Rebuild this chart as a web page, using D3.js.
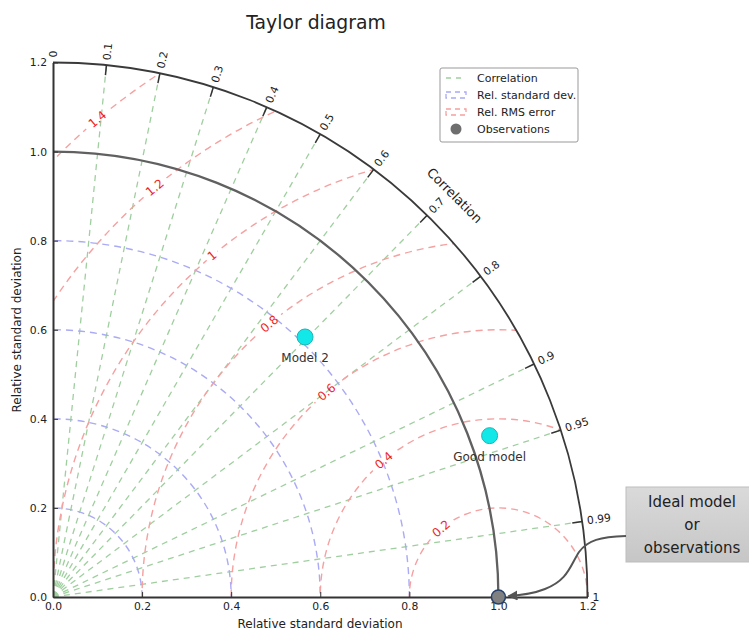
<!DOCTYPE html>
<html><head><meta charset="utf-8">
<script src="https://cdn.jsdelivr.net/npm/d3@7"></script>
<style>
body{margin:0;background:#fff}
svg{display:block}
text{font-family:"DejaVu Sans",sans-serif}
</style>
</head><body>
<svg id="chart" width="749" height="632"></svg>
<script>
// ---------- data ----------
const corrTicks = [0, 0.1, 0.2, 0.3, 0.4, 0.5, 0.6, 0.7, 0.8, 0.9, 0.95, 0.99, 1];
const corrGrid = [0.1, 0.2, 0.3, 0.4, 0.5, 0.6, 0.7, 0.8, 0.9, 0.95, 0.99];
const stdTicks = [0, 0.2, 0.4, 0.6, 0.8, 1.0, 1.2];
const stdGrid = [0.2, 0.4, 0.6, 0.8];
const rmsLevels = [0.2, 0.4, 0.6, 0.8, 1.0, 1.2, 1.4];
const refStd = 1.0;
const maxStd = 1.2;
const modelNames = ["Model 2", "Good model"];
const modelStd = [0.813, 1.045];
const modelCorr = [0.696, 0.938];
const legendLabels = ["Correlation", "Rel. standard dev.", "Rel. RMS error", "Observations"];
const calloutLines = ["Ideal model", "or", "observations"];

// ---------- layout ----------
const svg = d3.select("#chart");
const ox = 53, oy = 597;
const x = d3.scaleLinear().domain([0, maxStd]).range([ox, ox + 534.5]);
const y = d3.scaleLinear().domain([0, maxStd]).range([oy, oy - 534.5]);
const r = d3.scaleLinear().domain([0, maxStd]).range([0, 534.5]);
const pol = (s, c) => { const t = Math.acos(c); return [x(s * Math.cos(t)), y(s * Math.sin(t))]; };

const green = "#9fcf9f", blue = "#aaaaf5", red = "#f6a0a0";

const defs = svg.append("defs");
defs.append("clipPath").attr("id", "quad").append("path")
  .attr("d", () => { const p = d3.path(); p.moveTo(ox, oy); p.lineTo(ox, oy - r(maxStd)); p.arc(ox, oy, r(maxStd), -Math.PI/2, 0); p.closePath(); return p.toString(); });

// title
svg.append("text").attr("x", 316).attr("y", 29).attr("text-anchor", "middle")
  .attr("font-size", 18.8).attr("fill", "#222").text("Taylor diagram");

// ---------- grids ----------
const grid = svg.append("g").attr("clip-path", "url(#quad)");
grid.selectAll("line.corr").data(corrGrid).join("line").attr("class", "corr")
  .attr("x1", ox).attr("y1", oy)
  .attr("x2", d => pol(maxStd, d)[0]).attr("y2", d => pol(maxStd, d)[1])
  .attr("stroke", green).attr("stroke-width", 1.3).attr("stroke-dasharray", "6,5");
grid.selectAll("circle.std").data(stdGrid).join("circle").attr("class", "std")
  .attr("cx", ox).attr("cy", oy).attr("r", d => r(d))
  .attr("fill", "none").attr("stroke", blue).attr("stroke-width", 1.4).attr("stroke-dasharray", "7,5");

// RMS contours with label gaps
const phi = 130 * Math.PI / 180;
const rmsPos = rmsLevels.map(R => [x(refStd + R * Math.cos(phi)), y(R * Math.sin(phi))]);
const fmt = d3.format("~g");
const mask = defs.append("mask").attr("id", "rmsmask");
mask.append("rect").attr("x", 0).attr("y", 0).attr("width", 749).attr("height", 632).attr("fill", "white");
mask.selectAll("rect.g").data(rmsLevels).join("rect").attr("class", "g")
  .attr("x", d => -(fmt(d).length * 4 + 3)).attr("y", -6)
  .attr("width", d => 2 * (fmt(d).length * 4 + 3)).attr("height", 12).attr("fill", "black")
  .attr("transform", (d, i) => `translate(${rmsPos[i][0]},${rmsPos[i][1]}) rotate(-40)`);
grid.append("g").attr("mask", "url(#rmsmask)")
  .selectAll("circle").data(rmsLevels).join("circle")
  .attr("cx", x(refStd)).attr("cy", y(0)).attr("r", d => r(d))
  .attr("fill", "none").attr("stroke", red).attr("stroke-width", 1.4).attr("stroke-dasharray", "7,5");
svg.selectAll("text.rms").data(rmsLevels).join("text").attr("class", "rms")
  .attr("transform", (d, i) => `translate(${rmsPos[i][0]},${rmsPos[i][1]}) rotate(-40)`)
  .attr("text-anchor", "middle").attr("dominant-baseline", "central")
  .attr("font-size", 12).attr("fill", "#f01e24").text(d => fmt(d));

// ---------- arcs ----------
const arcPath = R => { const p = d3.path(); p.moveTo(ox, oy - r(R)); p.arc(ox, oy, r(R), -Math.PI/2, 0); return p.toString(); };
svg.append("path").attr("d", arcPath(refStd)).attr("fill", "none").attr("stroke", "#606060").attr("stroke-width", 2.3);
svg.append("path").attr("d", arcPath(maxStd)).attr("fill", "none").attr("stroke", "#3a3a3a").attr("stroke-width", 1.8);

// correlation ticks and labels
const ct = svg.append("g");
corrTicks.forEach(c => {
  const t = Math.acos(c), R = r(maxStd);
  const cx = Math.cos(t), sy = Math.sin(t);
  if (c > 0 && c < 1) {
    ct.append("line").attr("x1", ox + R * cx).attr("y1", oy - R * sy)
      .attr("x2", ox + (R - 10) * cx).attr("y2", oy - (R - 10) * sy)
      .attr("stroke", "#333").attr("stroke-width", 1.5);
  }
  ct.append("text").attr("transform", `translate(${ox + (R + 5) * cx},${oy - (R + 5) * sy}) rotate(${-t * 180 / Math.PI})`)
    .attr("dominant-baseline", "central").attr("font-size", 10.8).attr("fill", "#222").text(fmt(c));
});
{
  const t = Math.PI / 4, R = r(1.275);
  svg.append("text").attr("transform", `translate(${ox + R * Math.cos(t)},${oy - R * Math.sin(t)}) rotate(45)`)
    .attr("text-anchor", "middle").attr("dominant-baseline", "central")
    .attr("font-size", 13).attr("fill", "#222").text("Correlation");
}

// ---------- axes ----------
const f1 = d3.format(".1f");
const ax = svg.append("g").attr("transform", `translate(0,${oy})`)
  .call(d3.axisBottom(x).tickValues(stdTicks).tickFormat(f1).tickSizeInner(-5).tickSizeOuter(0).tickPadding(5));
const ay = svg.append("g").attr("transform", `translate(${ox},0)`)
  .call(d3.axisLeft(y).tickValues(stdTicks).tickFormat(f1).tickSizeInner(-5).tickSizeOuter(0).tickPadding(6));
[ax, ay].forEach(g => {
  g.select(".domain").attr("stroke", "#333").attr("stroke-width", 2);
  g.selectAll(".tick line").attr("stroke", "#333");
  g.selectAll(".tick text").attr("font-size", 10.8).attr("fill", "#222").attr("font-family", "DejaVu Sans");
});
svg.append("text").attr("x", 320).attr("y", 628).attr("text-anchor", "middle")
  .attr("font-size", 12).attr("fill", "#222").text("Relative standard deviation");
svg.append("text").attr("transform", "translate(21,330) rotate(-90)").attr("text-anchor", "middle")
  .attr("font-size", 12).attr("fill", "#222").text("Relative standard deviation");

// ---------- points ----------
svg.append("circle").attr("cx", x(refStd)).attr("cy", y(0)).attr("r", 7)
  .attr("fill", "#808080").attr("stroke", "#23406e").attr("stroke-width", 1.5);
modelNames.forEach((n, i) => {
  const [px, py] = pol(modelStd[i], modelCorr[i]);
  svg.append("circle").attr("cx", px).attr("cy", py).attr("r", 8)
    .attr("fill", "#12e8e8").attr("stroke", "#1fb5b5").attr("stroke-width", 1);
  svg.append("text").attr("x", px).attr("y", py + 25).attr("text-anchor", "middle")
    .attr("font-size", 12).attr("fill", "#333").text(n);
});

// ---------- legend ----------
const lg = svg.append("g").attr("transform", "translate(440,68)");
lg.append("rect").attr("width", 138).attr("height", 74).attr("rx", 2)
  .attr("fill", "#fff").attr("stroke", "#999").attr("stroke-width", 1);
const rowsY = [10, 27, 44, 61];
lg.append("line").attr("x1", 6).attr("x2", 26).attr("y1", rowsY[0]).attr("y2", rowsY[0])
  .attr("stroke", green).attr("stroke-width", 1.3).attr("stroke-dasharray", "5,5");
lg.append("rect").attr("x", 6).attr("y", rowsY[1] - 3).attr("width", 20).attr("height", 6)
  .attr("fill", "none").attr("stroke", blue).attr("stroke-width", 1.3).attr("stroke-dasharray", "5,4");
lg.append("rect").attr("x", 6).attr("y", rowsY[2] - 3).attr("width", 20).attr("height", 6)
  .attr("fill", "none").attr("stroke", red).attr("stroke-width", 1.3).attr("stroke-dasharray", "5,4");
lg.append("circle").attr("cx", 16).attr("cy", rowsY[3]).attr("r", 5.5).attr("fill", "#6e6e6e");
lg.selectAll("text").data(legendLabels).join("text")
  .attr("x", 37).attr("y", (d, i) => rowsY[i]).attr("dominant-baseline", "central")
  .attr("font-size", 11).attr("fill", "#222").text(d => d);

// ---------- callout ----------
const gr = defs.append("linearGradient").attr("id", "boxg").attr("x1", 0).attr("y1", 0).attr("x2", 0).attr("y2", 1);
gr.append("stop").attr("offset", 0).attr("stop-color", "#dadada");
gr.append("stop").attr("offset", 1).attr("stop-color", "#c6c6c6");
svg.append("rect").attr("x", 626).attr("y", 487).attr("width", 130).attr("height", 75)
  .attr("fill", "url(#boxg)").attr("stroke", "#bdbdbd");
svg.selectAll("text.call").data(calloutLines).join("text").attr("class", "call")
  .attr("x", 692).attr("y", (d, i) => 507 + i * 23).attr("text-anchor", "middle")
  .attr("font-family", "Lato, sans-serif").attr("font-size", 15).attr("fill", "#222").text(d => d);
defs.append("marker").attr("id", "ah").attr("viewBox", "0 0 10 10").attr("refX", 9).attr("refY", 5)
  .attr("markerWidth", 5).attr("markerHeight", 5).attr("orient", "auto-start-reverse")
  .append("path").attr("d", "M0,0 L10,5 L0,10 z").attr("fill", "#555");
{
  const tx = x(refStd) + 10, ty = y(0) - 1;
  svg.append("path")
    .attr("d", `M626,536 C600,537 588,540 579,552 C570,566 568,580 545,589 C535,593 525,595 ${tx},${ty}`)
    .attr("fill", "none").attr("stroke", "#555").attr("stroke-width", 2).attr("marker-end", "url(#ah)");
}
</script>
</body></html>
